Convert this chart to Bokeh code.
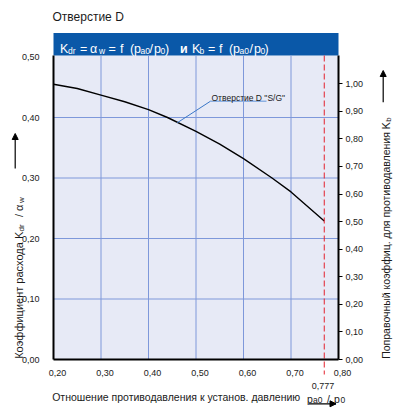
import math
from bokeh.plotting import figure
from bokeh.models import (Range1d, LinearAxis, FixedTicker, CustomJSTickFormatter,
                          Label, Arrow, NormalHead)
from bokeh.core.properties import value
from bokeh.embed import file_html
from bokeh.resources import INLINE

# ---------------- data ----------------
pressure_ratio = [0.20, 0.25, 0.30, 0.35, 0.40, 0.44, 0.50, 0.55, 0.60, 0.66, 0.70, 0.77]
k_dr = [0.455, 0.448, 0.437, 0.426, 0.413, 0.400, 0.377, 0.356, 0.332, 0.300, 0.277, 0.229]
x_ticks = [0.20, 0.30, 0.40, 0.50, 0.60, 0.70, 0.80]
left_ticks = [0.00, 0.10, 0.20, 0.30, 0.40, 0.50]
right_ticks = [0.00, 0.10, 0.20, 0.30, 0.40, 0.50, 0.60, 0.70, 0.80, 0.90, 1.00]
grid_x = [0.30, 0.40, 0.50, 0.60, 0.70]
grid_y = [0.10, 0.20, 0.30, 0.40]
limit_ratio = 0.77
limit_label = "0,777"
kb_per_kdr = 2.194
series_label = 'Отверстие D "S/G"'
title_text = "Отверстие D"
x_title = "Отношение противодавления к установ. давлению"
y_title = "Коэффициент расхода K"
y2_title = "Поправочный коэффиц. для противодавления K"

# ---------------- geometry (canvas pixels -> data) ----------------
FONT = "Liberation Sans"
W, H = 396, 408
X0, X1 = 0.2, 0.8
AX_L, AX_B = 53, 359          # canvas position of x=0.20 and y=0.00
PX_X, PX_Y = 475.0, 605.0     # pixels per data unit
LABEL_SHIFT = 4.0 / PX_X      # x tick labels sit a little right of their ticks


def dx(px):
    return X0 + (px - AX_L) / PX_X


def dy(py):
    return (AX_B - py) / PX_Y


HEADER_BOTTOM = dy(55)
HEADER_TOP = dy(32.5)
TXT = "#1a1a1a"
BLUE = "#0a58a8"
GRID = "#7e98da"
AREA = "#e7eaf6"

p = figure(width=W, height=H, min_border=0,
           x_range=Range1d(dx(0), dx(W)), y_range=Range1d(dy(H), dy(0)),
           x_axis_type=None, y_axis_type=None,
           output_backend="svg", toolbar_location=None,
           background_fill_color="white", border_fill_color="white",
           outline_line_color=None)
p.extra_y_ranges = {"kb": Range1d(dy(H) * kb_per_kdr, dy(0) * kb_per_kdr)}
p.extra_x_ranges = {"xlab": Range1d(dx(0) - LABEL_SHIFT, dx(W) - LABEL_SHIFT)}

fmt = CustomJSTickFormatter(code="return tick.toFixed(2).replace('.', ',');")

# plot area and header band
p.quad(left=[X0], right=[X1], bottom=[0], top=[HEADER_BOTTOM], fill_color=AREA, line_color=None)
p.quad(left=[X0], right=[X1], bottom=[HEADER_BOTTOM], top=[HEADER_TOP], fill_color=BLUE, line_color=None)

# grid lines
p.segment(x0=grid_x, y0=[0] * len(grid_x), x1=grid_x, y1=[HEADER_BOTTOM] * len(grid_x),
          line_color=GRID, line_width=1)
p.segment(x0=[X0] * len(grid_y), y0=grid_y, x1=[X1] * len(grid_y), y1=grid_y,
          line_color=GRID, line_width=1)


def style_axis(ax, standoff):
    ax.formatter = fmt
    ax.axis_line_width = 2
    ax.axis_line_color = "black"
    ax.major_tick_line_color = None
    ax.minor_tick_line_color = None
    ax.major_label_text_font = FONT
    ax.major_label_text_font_size = "9px"
    ax.major_label_text_color = TXT
    ax.major_label_standoff = standoff


# bottom axis: line, and its tick labels
bline = LinearAxis(fixed_location=0, ticker=FixedTicker(ticks=[]), bounds=(X0, X1))
style_axis(bline, 3)
p.add_layout(bline, "below")
blab = LinearAxis(fixed_location=0, x_range_name="xlab", ticker=FixedTicker(ticks=x_ticks))
style_axis(blab, 4)
blab.axis_line_color = None
p.add_layout(blab, "below")

lax = LinearAxis(fixed_location=X0, ticker=FixedTicker(ticks=left_ticks), bounds=(0, HEADER_BOTTOM))
style_axis(lax, 8)
p.add_layout(lax, "left")

rax = LinearAxis(fixed_location=X1, y_range_name="kb", ticker=FixedTicker(ticks=right_ticks),
                 bounds=(0, HEADER_BOTTOM * kb_per_kdr))
style_axis(rax, 3)
rax.major_tick_line_color = "black"
rax.major_tick_out = 4
rax.major_tick_in = 0
p.add_layout(rax, "right")

# header formula: (text, left px, kind)
header_parts = [("K", 59.5, "m"), ("dr", 67.5, "s"), ("=", 79.5, "m"), ("α", 89.5, "m"),
                ("w", 98.5, "s"), ("=", 108, "m"), ("f", 119.5, "m"), ("(", 129.5, "m"),
                ("p", 133.5, "m"), ("a0", 140, "s"), ("/", 149, "m"), ("p", 153.5, "m"),
                ("0", 160, "s"), (")", 164.5, "m"), ("и", 179.5, "b"), ("K", 191.5, "m"),
                ("b", 199, "s"), ("=", 207.5, "m"), ("f", 218.5, "m"), ("(", 228.5, "m"),
                ("p", 232.5, "m"), ("a0", 239, "s"), ("/", 249, "m"), ("p", 253.5, "m"),
                ("0", 260, "s"), (")", 264, "m")]
for kind, size, base, style in (("m", "12.5px", 48.2, "normal"), ("s", "8.5px", 50.6, "normal"),
                                ("b", "12.5px", 48.2, "bold")):
    parts = [h for h in header_parts if h[2] == kind]
    p.text(x=[dx(h[1]) for h in parts], y=[dy(base)] * len(parts), text=[h[0] for h in parts],
           text_font=value(FONT), text_font_size=size, text_font_style=style,
           text_color="white", text_align="left", text_baseline="alphabetic")

# curve
p.line(pressure_ratio, k_dr, line_color="black", line_width=1.4)

# limit line (crosses the x axis down to its label)
p.segment(x0=[limit_ratio], y0=[HEADER_BOTTOM], x1=[limit_ratio], y1=[dy(374)],
          line_color="#e3202c", line_width=1, line_dash="6 3")


def lab(text, px, py, size, align="left", angle=0.0, color=TXT, style="normal"):
    p.add_layout(Label(x=dx(px), y=dy(py), text=text, angle=angle,
                       text_font=FONT, text_font_size=size, text_color=color,
                       text_font_style=style, text_align=align, text_baseline="alphabetic"))


def arrow(px0, py0, px1, py1):
    p.add_layout(Arrow(end=NormalHead(size=6, fill_color="black", line_color="black", line_width=1),
                       x_start=dx(px0), y_start=dy(py0), x_end=dx(px1), y_end=dy(py1),
                       line_width=1.2, line_color="black"))


# series label with leader
p.segment(x0=[dx(210)], y0=[dy(100.7)], x1=[dx(266)], y1=[dy(100.7)],
          line_color="#8db0e2", line_width=1.6)
p.segment(x0=[dx(210)], y0=[dy(100.7)], x1=[dx(176.7)], y1=[dy(122.3)],
          line_color="#3b78c8", line_width=1)
lab(series_label, 211, 97.3, "8.5px")

# title
lab(title_text, 52, 16.7, "12px")

# limit label
lab(limit_label, 322.5, 385, "9px", align="center")

# x title
lab(x_title, 51.7, 396.7, "10.5px")
lab("p", 306.5, 398, "10.5px")
lab("a0", 312.5, 399.3, "8.5px")
lab("/", 326.5, 398, "10.5px")
lab("p", 333.5, 398, "10.5px")
lab("0", 340, 399.3, "8.5px")
arrow(308.3, 403.3, 335.5, 403.3)

# left y title (rotated)
R = math.pi / 2
lab(y_title, 18.3, 358.3, "11px", angle=R)
lab("dr", 20.5, 231, "8px", angle=R)
lab("/", 18.3, 216.5, "11px", angle=R)
lab("α", 18.3, 210.5, "11px", angle=R)
lab("w", 20.5, 202.5, "8px", angle=R)
arrow(14.7, 168, 14.7, 133)

# right y title (rotated)
lab(y2_title, 385.9, 358.3, "10.5px", angle=R)
lab("b", 387.9, 121.2, "8px", angle=R)
arrow(382.7, 101.7, 382.7, 70)

open("out.html", "w").write(file_html(p, INLINE))
